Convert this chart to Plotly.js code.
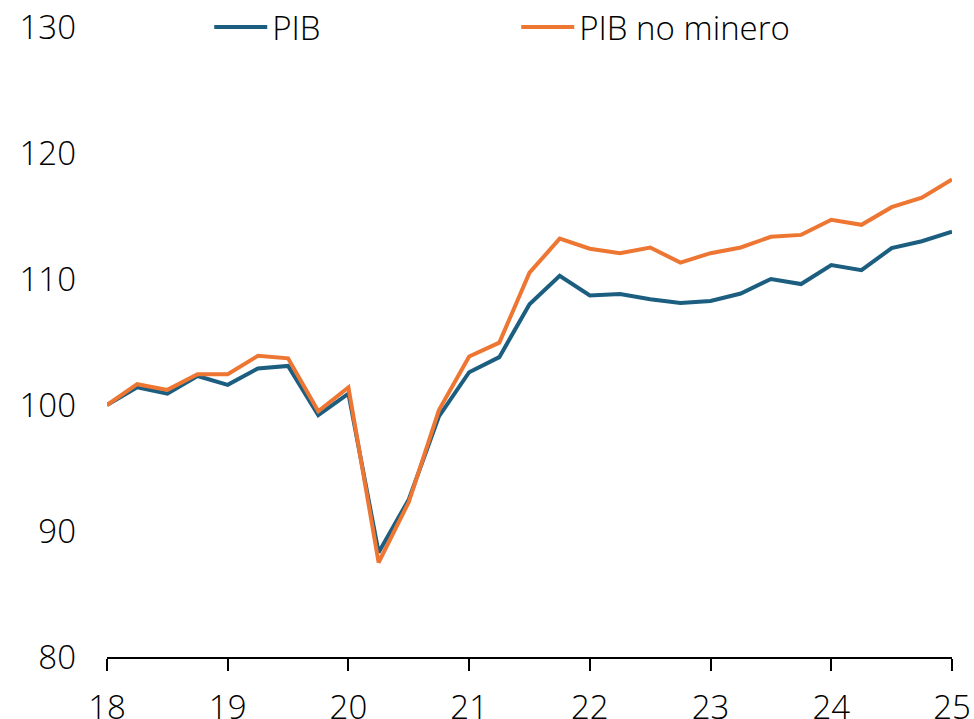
<!DOCTYPE html>
<html>
<head>
<meta charset="utf-8">
<script src="https://cdn.plot.ly/plotly-3.0.1.min.js"></script>
<style>html,body{margin:0;padding:0;background:#fff;}#chart{width:974px;height:719px;}</style>
</head>
<body>
<div id="chart"></div>
<script>
const quarters = [18,18.25,18.5,18.75,19,19.25,19.5,19.75,20,20.25,20.5,20.75,21,21.25,21.5,21.75,22,22.25,22.5,22.75,23,23.25,23.5,23.75,24,24.25,24.5,24.75,25];
const pib = [100,101.4,100.9,102.3,101.6,102.9,103.1,99.2,100.9,88.3,92.5,99.1,102.6,103.8,108.0,110.25,108.7,108.8,108.4,108.1,108.25,108.85,110.0,109.6,111.1,110.7,112.45,113.0,113.75];
const pibNoMinero = [100,101.65,101.2,102.45,102.45,103.9,103.7,99.5,101.4,87.5,92.3,99.6,103.85,104.95,110.5,113.2,112.4,112.05,112.5,111.3,112.05,112.5,113.35,113.5,114.7,114.3,115.7,116.45,117.9];
const xTickVals = [18,19,20,21,22,23,24,25];
const xTickText = ["18","19","20","21","22","23","24","25"];
const yTickVals = [80,90,100,110,120,130];

const font = {family: "Open Sans, sans-serif", size: 33, color: "#000", weight: 300};

const traces = [
  {x: quarters, y: pib, type: "scatter", mode: "lines", name: "PIB",
   line: {color: "#1b5e80", width: 4}},
  {x: quarters, y: pibNoMinero, type: "scatter", mode: "lines", name: "PIB no minero",
   line: {color: "#ee7633", width: 4}}
];

const layout = {
  width: 974, height: 719,
  margin: {l: 107, r: 22, t: 27, b: 62, autoexpand: false},
  paper_bgcolor: "#fff", plot_bgcolor: "#fff",
  font: font,
  showlegend: true,
  legend: {orientation: "h", x: 0.121, xanchor: "left", y: 1, yanchor: "middle",
           bgcolor: "rgba(0,0,0,0)", font: font, entrywidth: 239, entrywidthmode: "pixels",
           itemwidth: 53, tracegroupgap: 0},
  xaxis: {range: [18, 25], tickvals: xTickVals, ticktext: xTickText,
          showgrid: false, zeroline: false, showline: true, linecolor: "#000", linewidth: 2,
          ticks: "outside", ticklen: 12, tickwidth: 2, tickcolor: "#000",
          ticklabelstandoff: 8, tickfont: font},
  yaxis: {range: [80, 130], tickvals: yTickVals, showgrid: false, zeroline: false,
          showline: false, ticks: "", ticklabelstandoff: 30, tickfont: font}
};

Plotly.newPlot("chart", traces, layout, {displayModeBar: false, staticPlot: true});
</script>
</body>
</html>
